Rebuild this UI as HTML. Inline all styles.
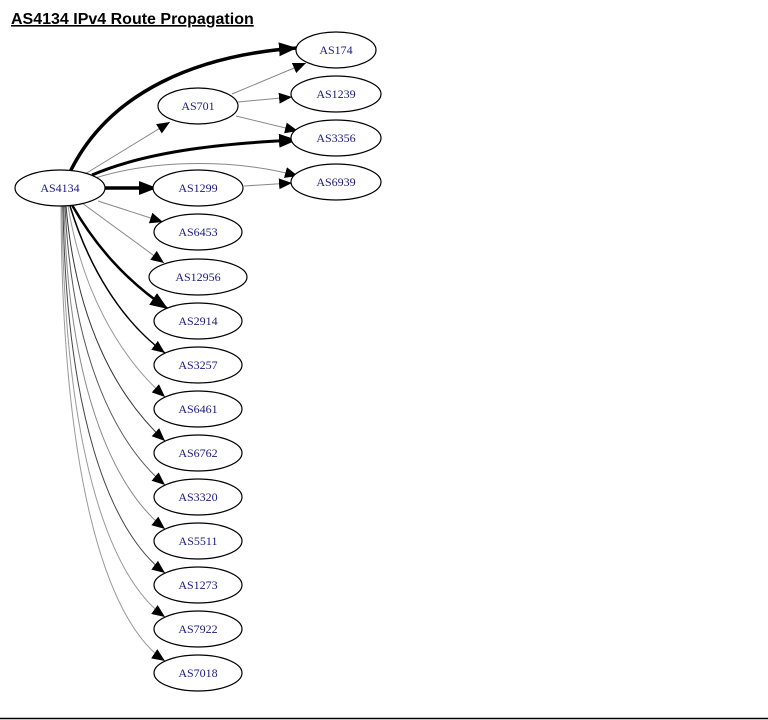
<!DOCTYPE html>
<html><head><style>
body{margin:0;background:#fff;width:768px;height:720px;overflow:hidden}
</style></head><body>
<svg width="768" height="720" viewBox="0 0 768 720" xmlns="http://www.w3.org/2000/svg" style="position:absolute;left:0;top:0">
<defs>
<marker id="a" markerUnits="userSpaceOnUse" markerWidth="14" markerHeight="11" refX="13" refY="5.5" orient="auto"><path d="M0,0 L13,5.5 L0,11 Z" fill="#000"/></marker>
<marker id="b" markerUnits="userSpaceOnUse" markerWidth="19" markerHeight="14" refX="18" refY="7" orient="auto"><path d="M0,0 L18,7 L0,14 Z" fill="#000"/></marker>
</defs>
<text x="11" y="24" font-family="Liberation Sans, sans-serif" font-size="16" font-weight="bold" text-decoration="underline">AS4134 IPv4 Route Propagation</text>
<g fill="none">
<path d="M70,172 C110,90 200,55 297,48" stroke="#000" stroke-width="3.5" marker-end="url(#b)"/>
<path d="M85,174 L170,122" stroke="#888" stroke-width="1" marker-end="url(#a)"/>
<path d="M232,94 L306,63" stroke="#888" stroke-width="1" marker-end="url(#a)"/>
<path d="M238,102 L292,97" stroke="#888" stroke-width="1" marker-end="url(#a)"/>
<path d="M236,116 L298,131" stroke="#888" stroke-width="1" marker-end="url(#a)"/>
<path d="M92,175 C150,150 230,143 297,140" stroke="#000" stroke-width="3" marker-end="url(#b)"/>
<path d="M95,178 C160,158 240,160 298,176" stroke="#888" stroke-width="1" marker-end="url(#a)"/>
<path d="M105,188 L157,188" stroke="#000" stroke-width="3.5" marker-end="url(#b)"/>
<path d="M244,186 L292,183" stroke="#888" stroke-width="1" marker-end="url(#a)"/>
<path d="M98,201 L163,222" stroke="#888" stroke-width="1" marker-end="url(#a)"/>
<path d="M82,203 L164,263" stroke="#888" stroke-width="1" marker-end="url(#a)"/>
<path d="M72,205 C95,245 125,280 168,309" stroke="#000" stroke-width="2.5" marker-end="url(#b)"/>
<path d="M70,206 C88,265 120,320 165,353" stroke="#000" stroke-width="1.5" marker-end="url(#a)"/>
<path d="M68,206 C82,290 118,355 165,397" stroke="#999" stroke-width="1" marker-end="url(#a)"/>
<path d="M66,206 C76,320 115,395 165,441" stroke="#333" stroke-width="1" marker-end="url(#a)"/>
<path d="M65,206 C72,350 112,440 165,485" stroke="#555" stroke-width="1" marker-end="url(#a)"/>
<path d="M64,206 C68,380 110,485 165,529" stroke="#888" stroke-width="1" marker-end="url(#a)"/>
<path d="M63,206 C66,410 108,530 165,573" stroke="#444" stroke-width="1" marker-end="url(#a)"/>
<path d="M62,206 C64,440 106,575 165,617" stroke="#999" stroke-width="1" marker-end="url(#a)"/>
<path d="M61,206 C62,470 104,620 165,661" stroke="#999" stroke-width="1" marker-end="url(#a)"/>
</g>
<g fill="#fff" stroke="#000" stroke-width="1.2">
<ellipse cx="60" cy="188" rx="45" ry="18"/>
<ellipse cx="198" cy="106" rx="40" ry="18"/>
<ellipse cx="198" cy="188" rx="45" ry="18"/>
<ellipse cx="198" cy="232" rx="44" ry="18"/>
<ellipse cx="198" cy="277" rx="49" ry="18"/>
<ellipse cx="198" cy="321" rx="44" ry="18"/>
<ellipse cx="198" cy="365" rx="44" ry="18"/>
<ellipse cx="198" cy="409" rx="44" ry="18"/>
<ellipse cx="198" cy="453" rx="44" ry="18"/>
<ellipse cx="198" cy="497" rx="44" ry="18"/>
<ellipse cx="198" cy="541" rx="44" ry="18"/>
<ellipse cx="198" cy="585" rx="44" ry="18"/>
<ellipse cx="198" cy="629" rx="44" ry="18"/>
<ellipse cx="198" cy="673" rx="44" ry="18"/>
<ellipse cx="336" cy="50" rx="40" ry="18"/>
<ellipse cx="336" cy="94" rx="45" ry="18"/>
<ellipse cx="336" cy="138" rx="45" ry="18"/>
<ellipse cx="336" cy="182" rx="45" ry="18"/>
</g>
<g font-family="Liberation Serif, serif" font-size="12" fill="#1a1a80" text-anchor="middle">
<text x="60" y="192">AS4134</text>
<text x="198" y="110">AS701</text>
<text x="198" y="192">AS1299</text>
<text x="198" y="236">AS6453</text>
<text x="198" y="281">AS12956</text>
<text x="198" y="325">AS2914</text>
<text x="198" y="369">AS3257</text>
<text x="198" y="413">AS6461</text>
<text x="198" y="457">AS6762</text>
<text x="198" y="501">AS3320</text>
<text x="198" y="545">AS5511</text>
<text x="198" y="589">AS1273</text>
<text x="198" y="633">AS7922</text>
<text x="198" y="677">AS7018</text>
<text x="336" y="54">AS174</text>
<text x="336" y="98">AS1239</text>
<text x="336" y="142">AS3356</text>
<text x="336" y="186">AS6939</text>
</g>
<line x1="0" y1="718.5" x2="768" y2="718.5" stroke="#000" stroke-width="1.5"/>
</svg>
</body></html>
